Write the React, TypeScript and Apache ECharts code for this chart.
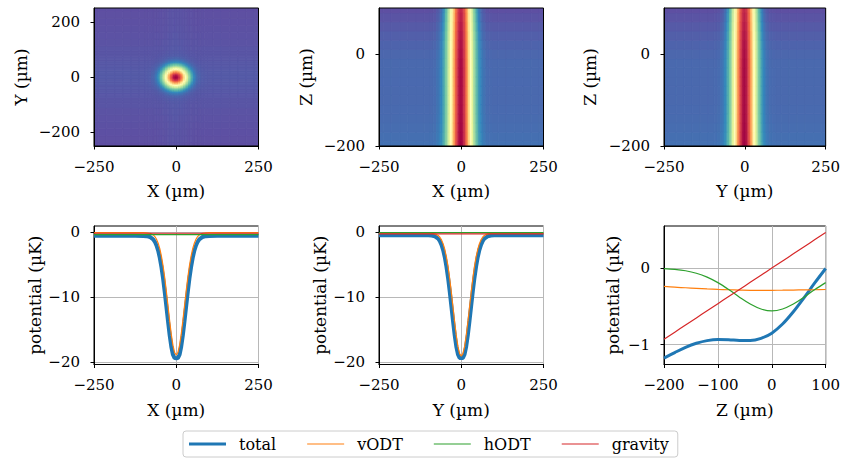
import React, { useEffect, useRef } from 'react';
import * as echarts from 'echarts';

// ---------- data ----------
// lateral sample positions (µm) used for X and Y profiles
const lateralUm = [
  -250, -225, -200, -175, -150, -125, -100, -90, -80, -70,
  -65, -60, -55, -50, -45, -40, -35, -30, -25, -20, -15, -10, -5,
  0,
  5, 10, 15, 20, 25, 30, 35, 40, 45, 50, 55, 60, 65,
  70, 80, 90, 100, 125, 150, 175, 200, 225, 250,
];

// X profile (µK)
const vodtAlongX = [
  -0.05, -0.05, -0.05, -0.05, -0.05, -0.05, -0.05, -0.08, -0.15, -0.40,
  -0.66, -1.07, -1.68, -2.54, -3.71, -5.21, -7.05, -9.16, -11.43, -13.71, -15.80, -17.48, -18.57,
  -18.95,
  -18.57, -17.48, -15.80, -13.71, -11.43, -9.16, -7.05, -5.21, -3.71, -2.54, -1.68, -1.07, -0.66,
  -0.40, -0.15, -0.08, -0.05, -0.05, -0.05, -0.05, -0.05, -0.05, -0.05,
];
const totalAlongX = [
  -0.55, -0.55, -0.55, -0.55, -0.55, -0.55, -0.56, -0.60, -0.72, -1.10,
  -1.47, -2.04, -2.84, -3.94, -5.38, -7.15, -9.22, -11.47, -13.76, -15.90, -17.68, -18.91, -19.43,
  -19.45,
  -19.43, -18.91, -17.68, -15.90, -13.76, -11.47, -9.22, -7.15, -5.38, -3.94, -2.84, -2.04, -1.47,
  -1.10, -0.72, -0.60, -0.56, -0.55, -0.55, -0.55, -0.55, -0.55, -0.55,
];
const flatEndsUm = [-250, 250];
const hodtAlongX = [-0.35, -0.35];
const gravityAlongX = [-0.15, -0.15];

// Y profile (µK)
const vodtAlongY = [
  -0.15, -0.15, -0.15, -0.15, -0.15, -0.15, -0.15, -0.18, -0.25, -0.50,
  -0.76, -1.18, -1.79, -2.66, -3.84, -5.35, -7.21, -9.33, -11.61, -13.89, -15.98, -17.66, -18.74,
  -19.12,
  -18.74, -17.66, -15.98, -13.89, -11.61, -9.33, -7.21, -5.35, -3.84, -2.66, -1.79, -1.18, -0.76,
  -0.50, -0.25, -0.18, -0.15, -0.15, -0.15, -0.15, -0.15, -0.15, -0.15,
];
const totalAlongY = [
  -0.45, -0.45, -0.45, -0.45, -0.45, -0.45, -0.46, -0.50, -0.62, -1.00,
  -1.38, -1.94, -2.75, -3.86, -5.30, -7.08, -9.15, -11.41, -13.71, -15.86, -17.65, -18.87, -19.40,
  -19.42,
  -19.40, -18.87, -17.65, -15.86, -13.71, -11.41, -9.15, -7.08, -5.30, -3.86, -2.75, -1.94, -1.38,
  -1.00, -0.62, -0.50, -0.46, -0.45, -0.45, -0.45, -0.45, -0.45, -0.45,
];
const hodtAlongY = [-0.05, -0.05];
const gravityAlongY = [-0.25, -0.25];

// horizontal-beam tint across Y in the XY map (µK)
const hodtAcrossY = [
  -0.06, -0.08, -0.10, -0.13, -0.17, -0.21, -0.26, -0.28, -0.30, -0.32,
  -0.33, -0.34, -0.35, -0.36, -0.37, -0.38, -0.38, -0.39, -0.39, -0.40, -0.40, -0.40, -0.40,
  -0.40,
  -0.40, -0.40, -0.40, -0.40, -0.39, -0.39, -0.38, -0.38, -0.37, -0.36, -0.35, -0.34, -0.33,
  -0.32, -0.30, -0.28, -0.26, -0.21, -0.17, -0.13, -0.10, -0.08, -0.06,
];

// Z profile (µK)
const zUm = [-200, -180, -160, -140, -120, -100, -80, -60, -40, -20, 0, 20, 40, 60, 80, 100];
const totalAlongZ = [-1.177, -1.104, -1.036, -0.983, -0.948, -0.933, -0.935, -0.946, -0.946, -0.918, -0.850, -0.731, -0.571, -0.386, -0.191, -0.005];
const vodtAlongZ = [-0.240, -0.250, -0.257, -0.265, -0.272, -0.278, -0.283, -0.287, -0.290, -0.290, -0.290, -0.289, -0.287, -0.285, -0.283, -0.280];
const hodtAlongZ = [-0.007, -0.017, -0.035, -0.067, -0.118, -0.190, -0.280, -0.380, -0.470, -0.535, -0.560, -0.535, -0.470, -0.380, -0.280, -0.190];
const gravityAlongZ = [-0.930, -0.837, -0.744, -0.651, -0.558, -0.465, -0.372, -0.279, -0.186, -0.093, 0.000, 0.093, 0.186, 0.279, 0.372, 0.465];

const seriesNames = ['total', 'vODT', 'hODT', 'gravity'];
const seriesColors = ['#1f77b4', '#ff7f0e', '#2ca02c', '#d62728'];

const xyTicksY = [-200, 0, 200];
const zTicks = [-200, 0];
const potTicksLateral = [-20, -10, 0];
const potTicksZ = [-1, 0];

// ---------- presentation ----------
const FONT = '"DejaVu Serif", serif';
const SPECTRAL_R = ['#9e0142', '#d53e4f', '#f46d43', '#fdae61', '#fee08b', '#ffffbf', '#e6f598', '#abdda4', '#66c2a5', '#3288bd', '#5e4fa2'];

function fmt(v: number) {
  return v < 0 ? '\u2212' + String(-v) : String(v);
}

function cellEdges(coords: number[], lo: number, hi: number) {
  const n = coords.length;
  return coords.map((c, i) => [
    i === 0 ? lo : (coords[i - 1] + c) / 2,
    i === n - 1 ? hi : (c + coords[i + 1]) / 2,
  ]);
}

function buildCells(xs: number[], xlo: number, xhi: number, ys: number[], ylo: number, yhi: number, valueAt: (i: number, j: number) => number) {
  const ex = cellEdges(xs, xlo, xhi);
  const ey = cellEdges(ys, ylo, yhi);
  const out: number[][] = [];
  for (let i = 0; i < xs.length; i++) {
    for (let j = 0; j < ys.length; j++) {
      out.push([ex[i][0], ex[i][1], ey[j][0], ey[j][1], valueAt(i, j)]);
    }
  }
  return out;
}

const centerIdx = lateralUm.indexOf(0);

export default function App() {
  const ref = useRef<HTMLDivElement>(null);
  useEffect(() => {
    document.body.style.margin = '0';
    if (!ref.current) return;
    const chart = echarts.init(ref.current, undefined, { renderer: 'svg' });

    const xyCells = buildCells(lateralUm, -250, 250, lateralUm, -250, 250,
      (i, j) => (vodtAlongX[i] * vodtAlongY[j]) / vodtAlongX[centerIdx] + hodtAcrossY[j]);
    const xzCells = buildCells(lateralUm, -250, 250, zUm, -200, 100,
      (i, j) => vodtAlongX[i] + hodtAlongZ[j] + gravityAlongZ[j]);
    const yzCells = buildCells(lateralUm, -250, 250, zUm, -200, 100,
      (i, j) => vodtAlongY[i] + hodtAlongZ[j] + gravityAlongZ[j]);

    const range = (cells: number[][]) => {
      const vals = cells.map((c) => c[4]);
      return [Math.min(...vals), Math.max(...vals)];
    };

    const renderCell = (params: any, api: any) => {
      const p0 = api.coord([api.value(0), api.value(3)]);
      const p1 = api.coord([api.value(1), api.value(2)]);
      const c = api.visual('color');
      return {
        type: 'rect',
        shape: { x: p0[0], y: p0[1], width: p1[0] - p0[0], height: p1[1] - p0[1] },
        style: { fill: c, stroke: c, lineWidth: 0.9 },
      };
    };

    const W = 164.5;
    const lefts = [94, 379, 664];
    const grids = [
      ...lefts.map((l) => ({ left: l, top: 8, width: W, height: 138, show: true, borderColor: '#000', borderWidth: 1, z: 5 })),
      ...lefts.map((l) => ({ left: l, top: 226, width: W, height: 138.5, show: true, borderColor: '#000', borderWidth: 1 })),
    ];

    const baseAxis = (extra: any) => ({
      type: 'value',
      nameLocation: 'middle',
      nameTextStyle: { color: '#000', fontFamily: FONT, fontSize: 17 },
      axisLine: { show: true, onZero: false, lineStyle: { color: '#000', width: 1 } },
      axisTick: { show: true, length: 3.5, lineStyle: { color: '#000', width: 1 } },
      axisLabel: { color: '#000', fontFamily: FONT, fontSize: 15, formatter: fmt, margin: 13, showMinLabel: true, showMaxLabel: true },
      splitLine: { show: false },
      ...extra,
    });

    const gridLine = { show: true, lineStyle: { color: '#b8b8b8', width: 1 } };

    const xAxes = [
      baseAxis({ gridIndex: 0, min: -250, max: 250, interval: 250, name: 'X (µm)', nameGap: 36, z: 5 }),
      baseAxis({ gridIndex: 1, min: -250, max: 250, interval: 250, name: 'X (µm)', nameGap: 36, z: 5 }),
      baseAxis({ gridIndex: 2, min: -250, max: 250, interval: 250, name: 'Y (µm)', nameGap: 36, z: 5 }),
      baseAxis({ gridIndex: 3, min: -250, max: 250, interval: 250, name: 'X (µm)', nameGap: 37, splitLine: gridLine }),
      baseAxis({ gridIndex: 4, min: -250, max: 250, interval: 250, name: 'Y (µm)', nameGap: 37, splitLine: gridLine }),
      baseAxis({ gridIndex: 5, min: -200, max: 100, interval: 100, name: 'Z (µm)', nameGap: 37, splitLine: gridLine }),
    ];

    const yCustom = (ticks: number[], labelMargin: number) => ({
      axisTick: { show: true, length: 3.5, lineStyle: { color: '#000', width: 1 }, customValues: ticks },
      axisLabel: { color: '#000', fontFamily: FONT, fontSize: 15, formatter: fmt, margin: labelMargin, customValues: ticks },
    });

    const yAxes = [
      baseAxis({ gridIndex: 0, min: -250, max: 250, name: 'Y (µm)', nameGap: 65, z: 5, ...yCustom(xyTicksY, 14) }),
      baseAxis({ gridIndex: 1, min: -200, max: 100, name: 'Z (µm)', nameGap: 65, z: 5, ...yCustom(zTicks, 14) }),
      baseAxis({ gridIndex: 2, min: -200, max: 100, name: 'Z (µm)', nameGap: 66, z: 5, ...yCustom(zTicks, 14) }),
      baseAxis({ gridIndex: 3, min: -20.42, max: 0.97, name: 'potential (µK)', nameGap: 51, splitLine: gridLine, ...yCustom(potTicksLateral, 14) }),
      baseAxis({ gridIndex: 4, min: -20.42, max: 0.97, name: 'potential (µK)', nameGap: 51, splitLine: gridLine, ...yCustom(potTicksLateral, 14) }),
      baseAxis({ gridIndex: 5, min: -1.26, max: 0.55, name: 'potential (µK)', nameGap: 43, splitLine: gridLine, ...yCustom(potTicksZ, 14) }),
    ];

    const heat = (name: string, idx: number, cells: number[][]) => ({
      type: 'custom',
      name,
      xAxisIndex: idx,
      yAxisIndex: idx,
      z: 1,
      clip: true,
      silent: true,
      dimensions: ['x0', 'x1', 'y0', 'y1', 'value'],
      encode: { x: [0, 1], y: [2, 3] },
      data: cells,
      renderItem: renderCell,
    });

    const line = (gi: number, k: number, xs: number[], ys: number[]) => ({
      type: 'line',
      name: seriesNames[k],
      xAxisIndex: gi,
      yAxisIndex: gi,
      data: xs.map((x, i) => [x, ys[i]]),
      showSymbol: false,
      symbol: 'none',
      smooth: gi === 5 ? 0.35 : false,
      clip: true,
      silent: true,
      color: seriesColors[k],
      lineStyle: { color: seriesColors[k], width: k === 0 ? (gi === 5 ? 3 : 4) : 1.2 },
      z: 3 + k,
    });

    const legendIcons = [
      'path://M0,0h37v3h-37z',
      'path://M0,0h37v1.2h-37z',
      'path://M0,0h37v1.2h-37z',
      'path://M0,0h37v1.2h-37z',
    ];

    const option: any = {
      animation: false,
      backgroundColor: '#ffffff',
      grid: grids,
      xAxis: xAxes,
      yAxis: yAxes,
      visualMap: [
        { show: false, type: 'continuous', seriesIndex: 0, dimension: 4, min: range(xyCells)[0], max: range(xyCells)[1], inRange: { color: SPECTRAL_R } },
        { show: false, type: 'continuous', seriesIndex: 1, dimension: 4, min: range(xzCells)[0], max: range(xzCells)[1], inRange: { color: SPECTRAL_R } },
        { show: false, type: 'continuous', seriesIndex: 2, dimension: 4, min: range(yzCells)[0], max: range(yzCells)[1], inRange: { color: SPECTRAL_R } },
      ],
      legend: {
        data: seriesNames.map((n, k) => ({ name: n, icon: legendIcons[k], itemStyle: { color: seriesColors[k], borderWidth: 0 } })),
        left: 183,
        top: 431,
        orient: 'horizontal',
        itemWidth: 37,
        itemHeight: 14,
        itemGap: 31,
        symbolKeepAspect: true,
        padding: [5, 9, 5, 6],
        borderColor: '#cccccc',
        borderWidth: 1,
        borderRadius: 3,
        backgroundColor: '#ffffff',
        selectedMode: false,
        textStyle: { color: '#000', fontFamily: FONT, fontSize: 16, padding: [0, 0, 0, 8] },
      },
      series: [
        heat('xyMap', 0, xyCells),
        heat('xzMap', 1, xzCells),
        heat('yzMap', 2, yzCells),
        line(3, 0, lateralUm, totalAlongX),
        line(3, 1, lateralUm, vodtAlongX),
        line(3, 2, flatEndsUm, hodtAlongX),
        line(3, 3, flatEndsUm, gravityAlongX),
        line(4, 0, lateralUm, totalAlongY),
        line(4, 1, lateralUm, vodtAlongY),
        line(4, 2, flatEndsUm, hodtAlongY),
        line(4, 3, flatEndsUm, gravityAlongY),
        line(5, 0, zUm, totalAlongZ),
        line(5, 1, zUm, vodtAlongZ),
        line(5, 2, zUm, hodtAlongZ),
        line(5, 3, zUm, gravityAlongZ),
      ],
    };

    chart.setOption(option);
    return () => chart.dispose();
  }, []);

  return <div ref={ref} style={{ position: 'fixed', left: 0, top: 0, width: 843, height: 464 }} />;
}
